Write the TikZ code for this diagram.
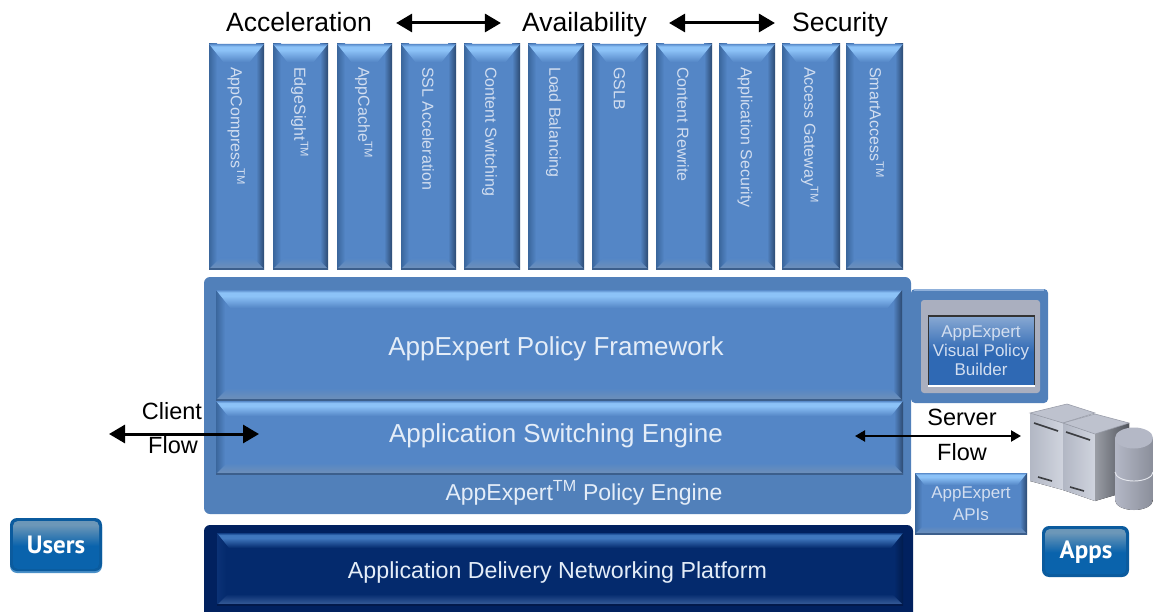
\documentclass[tikz,border=0pt]{standalone}
\usepackage{fontspec}
\setmainfont{Liberation Sans}
\newfontfamily\btnfont{PT Sans}
\usetikzlibrary{arrows.meta}
\definecolor{bluebody}{HTML}{5486C6}
\definecolor{bluehi}{HTML}{8CC2F7}
\definecolor{blueedge}{HTML}{5A8CCB}
\definecolor{bluedk}{HTML}{2C4A72}
\definecolor{blueside}{HTML}{3A669C}
\definecolor{bluebot}{HTML}{6F90B8}
\definecolor{blueline}{HTML}{3C5F8C}
\definecolor{navybody}{HTML}{042A6D}
\definecolor{navyhi}{HTML}{3F77BE}
\definecolor{navyedge}{HTML}{123F86}
\definecolor{navydk}{HTML}{011C4E}
\definecolor{navyside}{HTML}{0B3276}
\definecolor{navybot}{HTML}{3A5F9C}
\definecolor{navyline}{HTML}{02194A}
\definecolor{panelblue}{HTML}{5180BA}
\definecolor{panelnavy}{HTML}{01215F}
\definecolor{softwhite}{HTML}{E4EDF8}
\definecolor{mutedwhite}{HTML}{D2DEF0}
\definecolor{btnblue}{HTML}{0A63AC}
\definecolor{btnhi}{HTML}{6C97B8}
\definecolor{btnedge}{HTML}{0B5B9E}
\definecolor{btnlow}{HTML}{4A90C8}
\definecolor{vpbblue}{HTML}{2F69B4}
\definecolor{vpbhi}{HTML}{86A7D2}
\definecolor{vpbgray}{HTML}{AAAFBF}
\definecolor{vpbrim}{HTML}{8FB0DA}
\definecolor{srvtop}{HTML}{BEC2CE}
\definecolor{srvedge}{HTML}{9A9EAA}
\definecolor{srvfrontl}{HTML}{B2B7C4}
\definecolor{srvfrontr}{HTML}{D0D4DE}
\definecolor{srvsidel}{HTML}{9A9DA5}
\definecolor{srvsider}{HTML}{50545C}
\definecolor{srvslot}{HTML}{3C3E42}
\definecolor{cyll}{HTML}{B4B8C6}
\definecolor{cylr}{HTML}{8A8E9A}
\definecolor{cyltop}{HTML}{B4B8C6}
\definecolor{cylline}{HTML}{E6E8EE}
% pgf fits the path's box onto the 25bp--75bp part of a declared shading
\pgfdeclareverticalshading{bluetop}{100bp}{color(0bp)=(bluebody); color(25bp)=(bluebody); color(58bp)=(bluehi); color(68bp)=(bluehi); color(75bp)=(blueedge); color(100bp)=(blueedge)}
\pgfdeclareverticalshading{navytop}{100bp}{color(0bp)=(navybody); color(25bp)=(navybody); color(58bp)=(navyhi); color(68bp)=(navyhi); color(75bp)=(navyedge); color(100bp)=(navyedge)}
\pgfdeclareverticalshading{btnshade}{100bp}{color(0bp)=(btnblue); color(49bp)=(btnblue); color(71bp)=(btnhi); color(100bp)=(btnhi)}
\pgfdeclareverticalshading{vpbshade}{100bp}{color(0bp)=(vpbblue); color(49bp)=(vpbblue); color(75bp)=(vpbhi); color(100bp)=(vpbhi)}
% x0 y0 x1 y1 side top bottom palette
\newcommand{\bevelbox}[8]{%
  \fill[#8body] (#1,#2) rectangle (#3,#4);
  \path[left color=#8side,right color=#8body] (#1,#2) rectangle (#1+#5,#4);
  \path[left color=#8body,right color=#8dk] (#3-#5,#2) rectangle (#3,#4);
  \shade[shading=#8top] (#1,#2) -- (#3,#2) -- (#3-#6*0.8,#2+#6) -- (#1+#6*0.8,#2+#6) -- cycle;
  \path[top color=#8body,bottom color=#8bot] (#1+#7,#4-#7) -- (#3-#7,#4-#7) -- (#3,#4) -- (#1,#4) -- cycle;
  \draw[#8line,line width=1.2pt] (#1,#4) -- (#3,#4);
}
\newcommand{\colbox}[5]{% name x0 x1 textx text
  \bevelbox{#2}{44}{#3}{269}{8}{18}{11}{blue}
  \node[coltext] (#1) at (#4,67) {#5};
}
\tikzset{
  coltext/.style={rotate=-90,anchor=west,inner sep=0pt,text=mutedwhite,font=\fontsize{16}{16}\selectfont,text height=11.5pt,text depth=0pt},
  headlabel/.style={inner sep=0pt,text=black,font=\fontsize{26.5}{26.5}\selectfont,text height=21pt,text depth=4pt},
  flowlabel/.style={inner sep=0pt,anchor=base,text=black,font=\fontsize{23.5}{23.5}\selectfont},
  barlabel/.style={inner sep=0pt,anchor=base,text=softwhite,font=\fontsize{26}{26}\selectfont},
  smalllabel/.style={inner sep=0pt,text=mutedwhite,align=center},
  btnlabel/.style={inner sep=0pt,text=white,font=\btnfont\bfseries\fontsize{25}{25}\selectfont},
  flowarrow/.style={{Triangle[length=16pt,width=18pt]}-{Triangle[length=16pt,width=18pt]},line width=3pt,black},
  thinarrow/.style={{Triangle[length=10pt,width=11pt]}-{Triangle[length=10pt,width=11pt]},line width=2.2pt,black},
}
\begin{document}
\begin{tikzpicture}[x=1pt,y=-1pt]
\useasboundingbox (0,0) rectangle (1153,612);
\fill[white] (0,0) rectangle (1153,612);

% header
\node[headlabel] (accel) at (299,23) {Acceleration};
\node[headlabel] (avail) at (584.5,23) {Availability};
\node[headlabel] (secur) at (840,23) {Security};
\draw[flowarrow,shorten <=24pt,shorten >=21pt] (accel.east) -- (avail.west);
\draw[flowarrow,shorten <=22pt,shorten >=17pt] (avail.east) -- (secur.west);

% columns
\colbox{c1}{209}{264}{236.5}{AppCompress\textsuperscript{TM}}
\colbox{c2}{273}{328}{300}{EdgeSight\textsuperscript{TM}}
\colbox{c3}{337}{392}{364}{AppCache\textsuperscript{TM}}
\colbox{c4}{401}{456}{428}{SSL Acceleration}
\colbox{c5}{464}{520}{491}{Content Switching}
\colbox{c6}{528}{584}{555}{Load Balancing}
\colbox{c7}{592}{648}{619.5}{GSLB}
\colbox{c8}{656}{712}{683}{Content Rewrite}
\colbox{c9}{719}{775}{746.5}{Application Security}
\colbox{c10}{782}{840}{810}{Access Gateway\textsuperscript{TM}}
\colbox{c11}{846}{903}{875.5}{SmartAccess\textsuperscript{TM}}

% policy engine panel
\fill[panelblue,rounded corners=6pt] (204,277) rectangle (911,514);
\bevelbox{216}{290}{902}{400}{9}{18}{12}{blue}
\bevelbox{216}{401}{903}{474}{9}{15}{11}{blue}
\node[barlabel] (fw) at (556,355) {AppExpert Policy Framework};
\node[barlabel] (sw) at (556,442.7) {Application Switching Engine};
\node[barlabel,font=\fontsize{23}{23}\selectfont] (pe) at (584,500.7) {AppExpert\textsuperscript{TM} Policy Engine};

% platform
\fill[panelnavy,rounded corners=6pt] (204,525) rectangle (913,620);
\bevelbox{217}{533}{903}{605}{9}{15}{11}{navy}
\node[barlabel,font=\fontsize{23.2}{23.2}\selectfont] (adn) at (557.5,578) {Application Delivery Networking Platform};

% visual policy builder
\fill[panelblue,rounded corners=4pt] (911,289) rectangle (1048,403);
\fill[vpbrim] (914,289) rectangle (1044,290.5);
\fill[vpbgray,rounded corners=3pt] (921,300) rectangle (1040,393);
\fill[black!80] (928,315) rectangle (1035,387);
\shade[shading=vpbshade] (929,317) rectangle (1034,385);
\fill[white] (928,385) rectangle (1035,386.5);
\node[smalllabel,font=\fontsize{17}{19}\selectfont] (vpb) at (981,351) {AppExpert\\Visual Policy\\Builder};

% APIs
\bevelbox{915}{473}{1027}{534}{7}{12}{8}{blue}
\node[smalllabel,font=\fontsize{17}{22}\selectfont] (api) at (971,504) {AppExpert\\APIs};

% server icon
\fill[left color=srvfrontl,right color=srvfrontr] (1030,413) -- (1063,423) -- (1063,490) -- (1030,481) -- cycle;
\fill[srvtop] (1030,413) -- (1067,404) -- (1095,413) -- (1063,423) -- cycle;
\draw[srvedge,line width=.6pt] (1030,413) -- (1067,404) -- (1095,413) -- (1063,423) -- cycle;
\fill[left color=srvfrontl,right color=srvfrontr] (1063,423) -- (1095,434) -- (1095,501) -- (1063,490) -- cycle;
\fill[left color=srvsidel,right color=srvsider] (1095,434) -- (1129,423) -- (1129,491) -- (1095,501) -- cycle;
\fill[srvtop] (1063,423) -- (1095,414) -- (1129,423) -- (1095,434) -- cycle;
\draw[srvedge,line width=.6pt] (1063,423) -- (1095,414) -- (1129,423) -- (1095,434) -- cycle;
\draw[srvslot,line width=1.6pt] (1034,423) -- (1058,431);
\draw[srvslot,line width=1.6pt] (1066,432) -- (1090,440);
\draw[srvslot,line width=1.6pt] (1038,477) -- (1052,481);
\draw[srvslot,line width=1.6pt] (1070,487) -- (1084,491);
% cylinders
\fill[left color=cyll,right color=cylr] (1115,438) -- (1115,500) arc[start angle=180,end angle=0,x radius=19,y radius=10] -- (1153,438) -- cycle;
\draw[cylline,line width=.9pt] (1115,472) arc[start angle=180,end angle=0,x radius=19,y radius=9];
\fill[cyltop] (1134,438) ellipse[x radius=19,y radius=10.5];

% buttons
\fill[btnedge,rounded corners=7pt] (1042,526) rectangle (1129,577);
\shade[shading=btnshade,rounded corners=5pt] (1045,529) rectangle (1126,574);
\node[btnlabel] (apps) at (1086,552) {Apps};
\fill[btnlow,rounded corners=7pt] (10,520) rectangle (102,573);
\fill[btnedge,rounded corners=7pt] (10,518) rectangle (102,571);
\shade[shading=btnshade,rounded corners=5pt] (13,521) rectangle (99,569);
\node[btnlabel] (users) at (56,545) {Users};

% flows
\node[flowlabel] (client) at (172,419) {Client};
\node[flowlabel] (cflow) at (173,453) {Flow};
\node[flowlabel] (server) at (962,425) {Server};
\node[flowlabel] (sflow) at (962,460) {Flow};
\coordinate (cl) at (109,434);
\coordinate (cr) at (259,434);
\coordinate (sl) at (855,436);
\coordinate (sr) at (1021,436);
\draw[flowarrow] (cl) -- (cr);
\draw[thinarrow] (sl) -- (sr);
\end{tikzpicture}
\end{document}
